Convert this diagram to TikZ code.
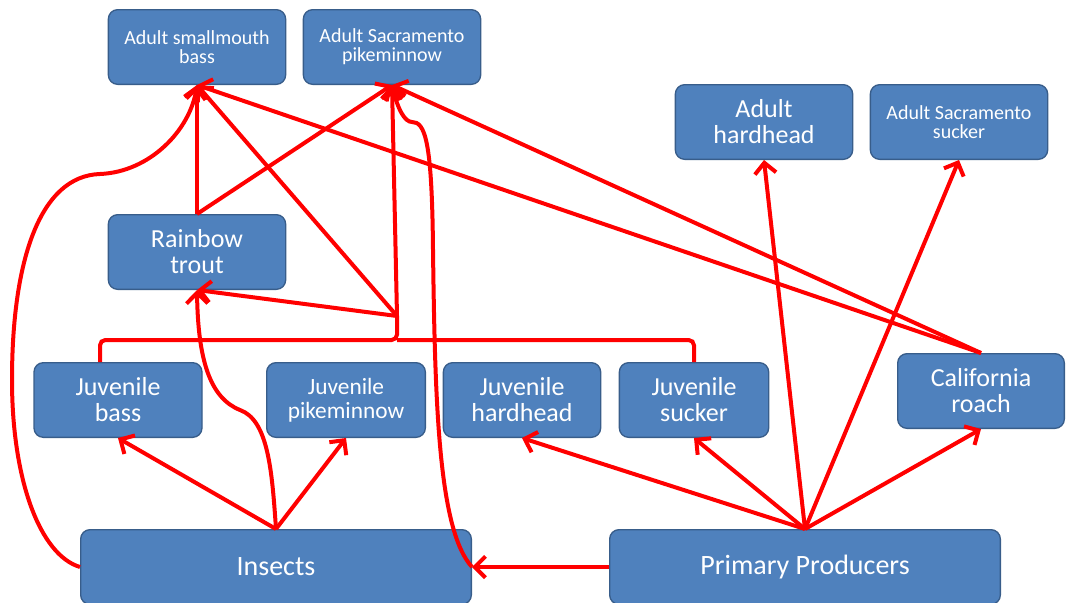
\documentclass[tikz,border=0pt]{standalone}
\usepackage{fontspec}
\setmainfont{Carlito}
\usetikzlibrary{positioning,arrows.meta,calc}
\definecolor{boxblue}{RGB}{79,129,189}
\definecolor{boxedge}{RGB}{56,93,138}
\tikzset{
    box/.style = {
        draw=boxedge,
        shape=rectangle,
        rounded corners=7pt,
        fill=boxblue,
        text=white,
        align=center,
        line width=1pt,
        inner sep=2pt
    },
    adult/.style = {
        box,
        minimum width=133pt,
        minimum height=56pt,
        font=\fontsize{15pt}{14pt}\selectfont
    },
    fish/.style = {
        box,
        minimum width=133pt,
        minimum height=56pt,
        font=\fontsize{19.5pt}{19.5pt}\selectfont
    },
    source/.style = {
        box,
        minimum width=293pt,
        minimum height=56pt,
        font=\fontsize{21pt}{21pt}\selectfont
    },
    link/.style = {
        red,
        line width=3pt
    },
    >={Straight Barb[length=8pt,width=16pt]},
}
\begin{document}
\begin{tikzpicture}[x=0.75pt,y=-0.75pt]
            \useasboundingbox (0,0) rectangle (1067,603);

            \node[adult] (adultbass) at (197,47) {Adult smallmouth\\bass};
            \node[adult] (adultpike) at (392,47) {Adult Sacramento\\pikeminnow};
            \node[fish] (adulthard) at (764,122) {Adult\\hardhead};
            \node[adult] (adultsucker) at (959,122) {Adult Sacramento\\sucker};
            \node[fish] (trout) at (197,252) {Rainbow\\trout};
            \node[fish, minimum width=126pt] (juvbass) at (118,400) {Juvenile\\bass};
            \node[fish, minimum width=119pt, font=\fontsize{17.5pt}{18pt}\selectfont] (juvpike) at (346,400) {Juvenile\\pikeminnow};
            \node[fish, minimum width=118pt] (juvhard) at (522,400) {Juvenile\\hardhead};
            \node[fish, minimum width=112pt] (juvsucker) at (694,400) {Juvenile\\sucker};
            \node[fish, minimum width=125pt] (roach) at (981,391) {California\\roach};
            \node[source] (insects) at (276,567) {Insects};
            \node[source] (producers) at (805,567) {Primary Producers};

            \coordinate (join) at (397,316);
            \coordinate (bar) at (397,340);
            \coordinate (barleft) at (100,340);

            \path[draw, link, rounded corners=4pt] (juvbass.north -| barleft) -- (barleft) -- (bar) -- (join);
            \path[draw, link, rounded corners=4pt] (juvsucker.north) |- (bar);

            \path[draw, link, ->] (trout.north) -- (adultbass.south);
            \path[draw, link, ->] (trout.north) -- (adultpike.south);

            \path[draw, link, ->] (join) -- (trout.south);
            \path[draw, link, ->] (join) -- (adultbass.south);
            \path[draw, link, ->] (join) -- (adultpike.south);

            \path[draw, link, ->] (roach.north) -- (adultbass.south);
            \path[draw, link, ->] (roach.north) -- (adultpike.south);

            \path[draw, link, ->] (insects.north) -- (juvbass.south);
            \path[draw, link, ->] (insects.north) -- (juvpike.south);
            \path[draw, link, ->] (insects.north) .. controls (272,470) and (268,420) .. (240,410) .. controls (210,398) and (198,360) .. (trout.south);
            \path[draw, link, ->] (insects.west) .. controls (40,555) and (12,480) .. (12,380) .. controls (12,260) and (40,176) .. (100,174) .. controls (150,172) and (190,130) .. (adultbass.south);
            \path[draw, link, ->] (insects.east) .. controls (438,530) and (435,400) .. (433,250) .. controls (432,140) and (425,122) .. (412,122) .. controls (405,122) and (398,110) .. (adultpike.south);

            \path[draw, link, ->] (producers.west) -- (insects.east);
            \path[draw, link, ->] (producers.north) -- (juvhard.south);
            \path[draw, link, ->] (producers.north) -- (juvsucker.south);
            \path[draw, link, ->] (producers.north) -- (adulthard.south);
            \path[draw, link, ->] (producers.north) -- (adultsucker.south);
            \path[draw, link, ->] (producers.north) -- (roach.south);

        \end{tikzpicture}
\end{document}
